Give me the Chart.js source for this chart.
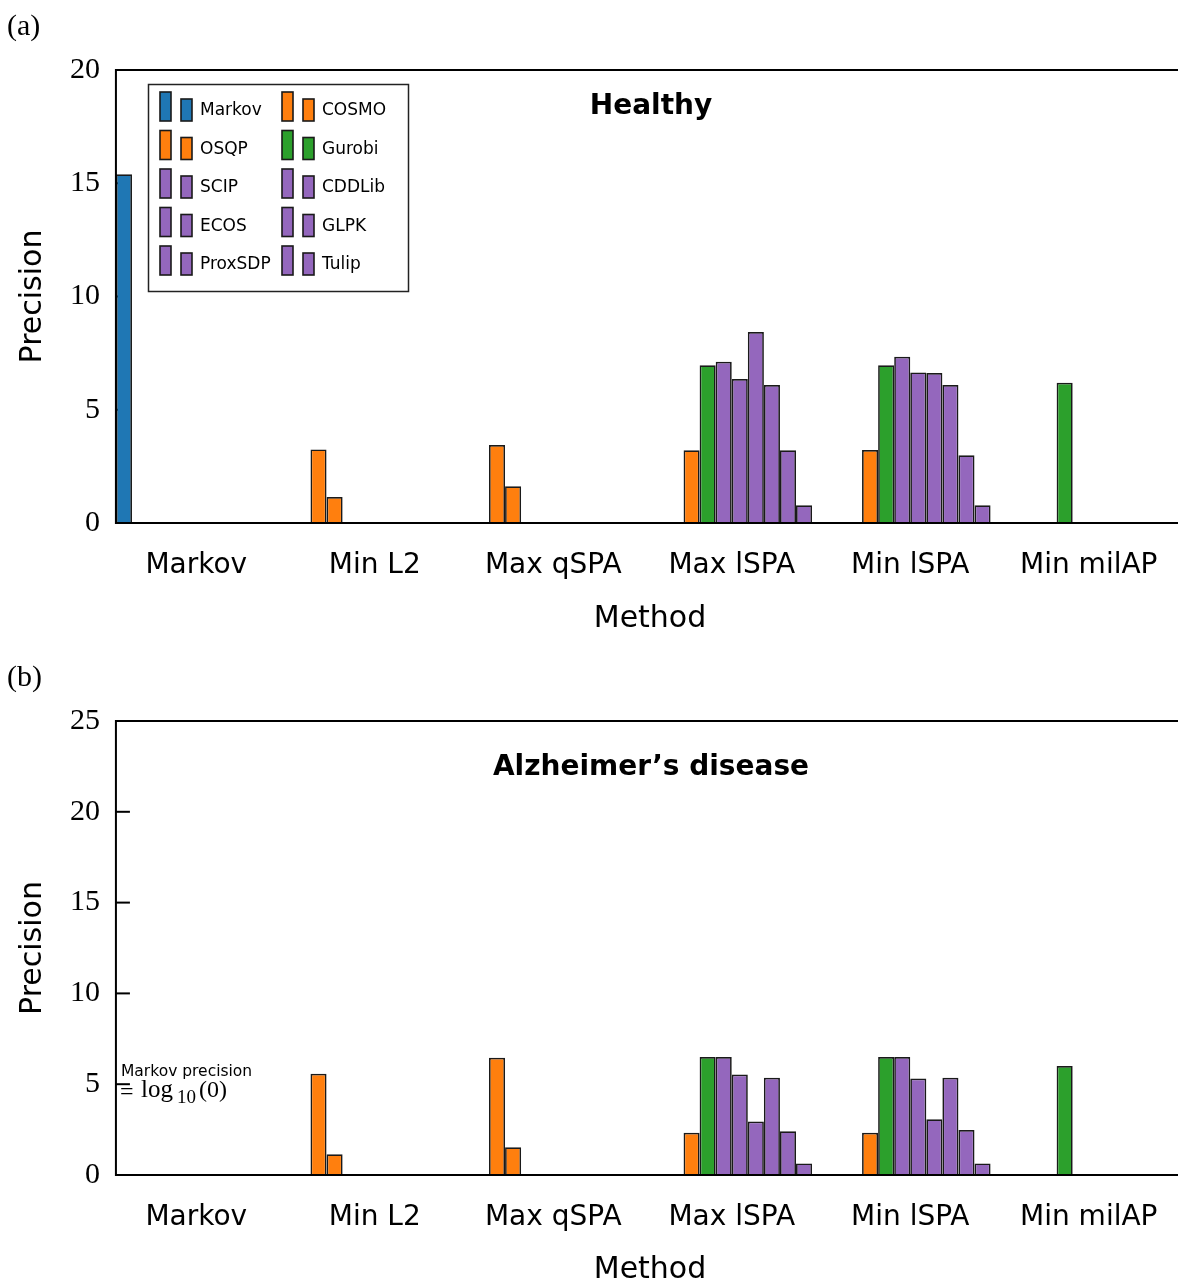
<!DOCTYPE html>
<html>
<head>
<meta charset="utf-8">
<script src="https://cdn.jsdelivr.net/npm/chart.js@4/dist/chart.umd.min.js"></script>
<style>
  html, body { margin: 0; padding: 0; background: #fff; overflow: hidden; }
  .panel { position: absolute; left: 0; width: 1178px; }
</style>
</head>
<body>
<div class="panel" style="top:0;height:651px"><canvas id="healthy" width="1178" height="651"></canvas></div>
<div class="panel" style="top:651px;height:634px"><canvas id="alzheimer" width="1178" height="634"></canvas></div>
<script>
// Methods on the x axis
const methods = ['Markov', 'Min L2', 'Max qSPA', 'Max lSPA', 'Min lSPA', 'Min milAP'];
// Solvers, in plotting order (one bar slot per solver in every group)
const solvers = ['Markov', 'COSMO', 'OSQP', 'Gurobi', 'SCIP', 'CDDLib', 'ECOS', 'GLPK', 'ProxSDP', 'Tulip'];
const solverColors = ['#1f77b4', '#ff7f0e', '#ff7f0e', '#2ca02c', '#9467bd', '#9467bd', '#9467bd', '#9467bd', '#9467bd', '#9467bd'];

// (a) Healthy: precision per method, one array per solver (null = not run)
const healthyMarkov  = [15.4, null, null, null, null, null];
const healthyCOSMO   = [null, 3.25, 3.44, null, null, null];
const healthyOSQP    = [null, 1.15, 1.62, 3.21, 3.22, null];
const healthyGurobi  = [null, null, null, 6.96, 6.96, 6.19];
const healthySCIP    = [null, null, null, 7.12, 7.34, null];
const healthyCDDLib  = [null, null, null, 6.36, 6.65, null];
const healthyECOS    = [null, null, null, 8.43, 6.62, null];
const healthyGLPK    = [null, null, null, 6.09, 6.09, null];
const healthyProxSDP = [null, null, null, 3.21, 2.99, null];
const healthyTulip   = [null, null, null, 0.78, 0.78, null];

// (b) Alzheimer's disease (Markov precision is log10(0), so no bar)
const adMarkov  = [null, null, null, null, null, null];
const adCOSMO   = [null, 5.57, 6.45, null, null, null];
const adOSQP    = [null, 1.14, 1.53, 2.33, 2.33, null];
const adGurobi  = [null, null, null, 6.50, 6.50, 6.00];
const adSCIP    = [null, null, null, 6.50, 6.50, null];
const adCDDLib  = [null, null, null, 5.53, 5.31, null];
const adECOS    = [null, null, null, 2.94, 3.07, null];
const adGLPK    = [null, null, null, 5.35, 5.35, null];
const adProxSDP = [null, null, null, 2.41, 2.48, null];
const adTulip   = [null, null, null, 0.64, 0.64, null];

const yTicksHealthy = [0, 5, 10, 15, 20];
const yTicksAD = [0, 5, 10, 15, 20, 25];

const SANS = '"DejaVu Sans", sans-serif';
const SERIF = '"Liberation Serif", "DejaVu Serif", serif';
const CAT_PCT = 0.9;

function frameLeft(chart) {
  const xs = chart.scales.x;
  const catW = xs.width / methods.length;
  return xs.getPixelForTick(0) - catW * CAT_PCT / 2;
}

// Inward y ticks, drawn under the bars
const tickPlugin = {
  id: 'inwardTicks',
  beforeDatasetsDraw(chart) {
    const ctx = chart.ctx, ys = chart.scales.y;
    const x0 = frameLeft(chart);
    ctx.save();
    ctx.strokeStyle = '#000';
    ctx.lineWidth = 2;
    ys.ticks.forEach(t => {
      const y = ys.getPixelForValue(t.value);
      ctx.beginPath();
      ctx.moveTo(x0, y);
      ctx.lineTo(x0 + 14, y);
      ctx.stroke();
    });
    ctx.restore();
  }
};

// Axis frame (left, top, bottom) and all annotation text
const framePlugin = {
  id: 'frameAndText',
  afterDatasetsDraw(chart, args, opts) {
    const ctx = chart.ctx, area = chart.chartArea;
    const x0 = frameLeft(chart);
    const W = chart.width;
    ctx.save();
    ctx.strokeStyle = '#000';
    ctx.lineWidth = 2;
    ctx.beginPath();
    ctx.moveTo(W, area.top);
    ctx.lineTo(x0, area.top);
    ctx.lineTo(x0, area.bottom);
    ctx.lineTo(W, area.bottom);
    ctx.stroke();

    ctx.fillStyle = '#000';
    ctx.textBaseline = 'middle';
    // panel letter
    ctx.textAlign = 'left';
    ctx.font = '30px ' + SERIF;
    ctx.fillText(opts.letter, 7, 27);
    // title
    ctx.textAlign = 'center';
    ctx.font = 'bold 28px ' + SANS;
    ctx.fillText(opts.title, 651, opts.titleY);
    // x axis title
    ctx.font = '30px ' + SANS;
    ctx.fillText('Method', 650, 619);
    // y axis title
    ctx.save();
    ctx.translate(33, (area.top + area.bottom) / 2);
    ctx.rotate(-Math.PI / 2);
    ctx.fillText('Precision', 0, 0);
    ctx.restore();

    if (opts.legend) drawLegend(chart);
    if (opts.markovNote) {
      ctx.textAlign = 'left';
      ctx.font = '15.5px ' + SANS;
      ctx.fillText('Markov precision', 121, 421);
      ctx.textBaseline = 'alphabetic';
      ctx.font = '24px ' + SERIF;
      ctx.fillText('=', 120, 448);
      ctx.font = '25px ' + SERIF;
      ctx.fillText('log', 141, 446);
      ctx.font = '19px ' + SERIF;
      ctx.fillText('10', 177, 452);
      ctx.font = '24px ' + SERIF;
      ctx.fillText('(0)', 199, 446);
    }
    ctx.restore();
  }
};

function drawLegend(chart) {
  const ctx = chart.ctx;
  ctx.save();
  ctx.fillStyle = '#fff';
  ctx.fillRect(148, 84, 260, 207);
  ctx.strokeStyle = '#222';
  ctx.lineWidth = 1.5;
  ctx.strokeRect(148.5, 84.5, 260, 207);
  chart.data.datasets.forEach((ds, k) => {
    const row = Math.floor(k / 2), col = k % 2;
    const yc = 110 + row * 38.5;
    const dx = col * 122;
    ctx.fillStyle = ds.backgroundColor;
    ctx.strokeStyle = '#1a1a1a';
    ctx.lineWidth = 1.6;
    ctx.fillRect(160 + dx, yc - 18, 11, 29);
    ctx.strokeRect(160 + dx, yc - 18, 11, 29);
    ctx.fillRect(181 + dx, yc - 11, 11, 22);
    ctx.strokeRect(181 + dx, yc - 11, 11, 22);
    ctx.fillStyle = '#000';
    ctx.font = '17px ' + SANS;
    ctx.textAlign = 'left';
    ctx.textBaseline = 'middle';
    ctx.fillText(ds.label, 200 + dx, yc + 1);
  });
  ctx.restore();
}

function makeChart(id, series, yMax, yTicks, plotBottom, opts) {
  const canvas = document.getElementById(id);
  const H = canvas.height;
  return new Chart(canvas, {
    type: 'bar',
    data: {
      labels: methods,
      datasets: solvers.map((name, i) => ({
        label: name,
        data: series[i],
        backgroundColor: solverColors[i],
        borderColor: '#1a1a1a',
        borderWidth: 1.7,
        categoryPercentage: CAT_PCT,
        barPercentage: 1.0
      }))
    },
    options: {
      responsive: false,
      animation: false,
      layout: { padding: { left: 0, right: 0, top: 70, bottom: 0 } },
      plugins: {
        legend: { display: false },
        tooltip: { enabled: false },
        frameAndText: opts
      },
      scales: {
        x: {
          offset: true,
          grid: { display: false, drawTicks: false },
          border: { display: false },
          ticks: { color: '#000', font: { family: SANS, size: 28 }, padding: 26, maxRotation: 0, autoSkip: false },
          afterFit(s) {
            s.height = H - 70 - plotBottom;
            s.paddingLeft = 0;
            s.paddingRight = 0;
          }
        },
        y: {
          min: 0, max: yMax,
          afterBuildTicks(s) { s.ticks = yTicks.map(v => ({ value: v })); },
          grid: { display: false, drawTicks: false },
          border: { display: false },
          ticks: { color: '#000', font: { family: SERIF, size: 30 }, padding: 7 },
          afterFit(s) { s.width = 107; s.paddingTop = 0; s.paddingBottom = 0; }
        }
      }
    },
    plugins: [tickPlugin, framePlugin]
  });
}

makeChart('healthy',
  [healthyMarkov, healthyCOSMO, healthyOSQP, healthyGurobi, healthySCIP, healthyCDDLib, healthyECOS, healthyGLPK, healthyProxSDP, healthyTulip],
  20, yTicksHealthy, 453,
  { letter: '(a)', title: 'Healthy', titleY: 107, legend: true, markovNote: false });

makeChart('alzheimer',
  [adMarkov, adCOSMO, adOSQP, adGurobi, adSCIP, adCDDLib, adECOS, adGLPK, adProxSDP, adTulip],
  25, yTicksAD, 454,
  { letter: '(b)', title: 'Alzheimer\u2019s disease', titleY: 117, legend: false, markovNote: true });
</script>
</body>
</html>
